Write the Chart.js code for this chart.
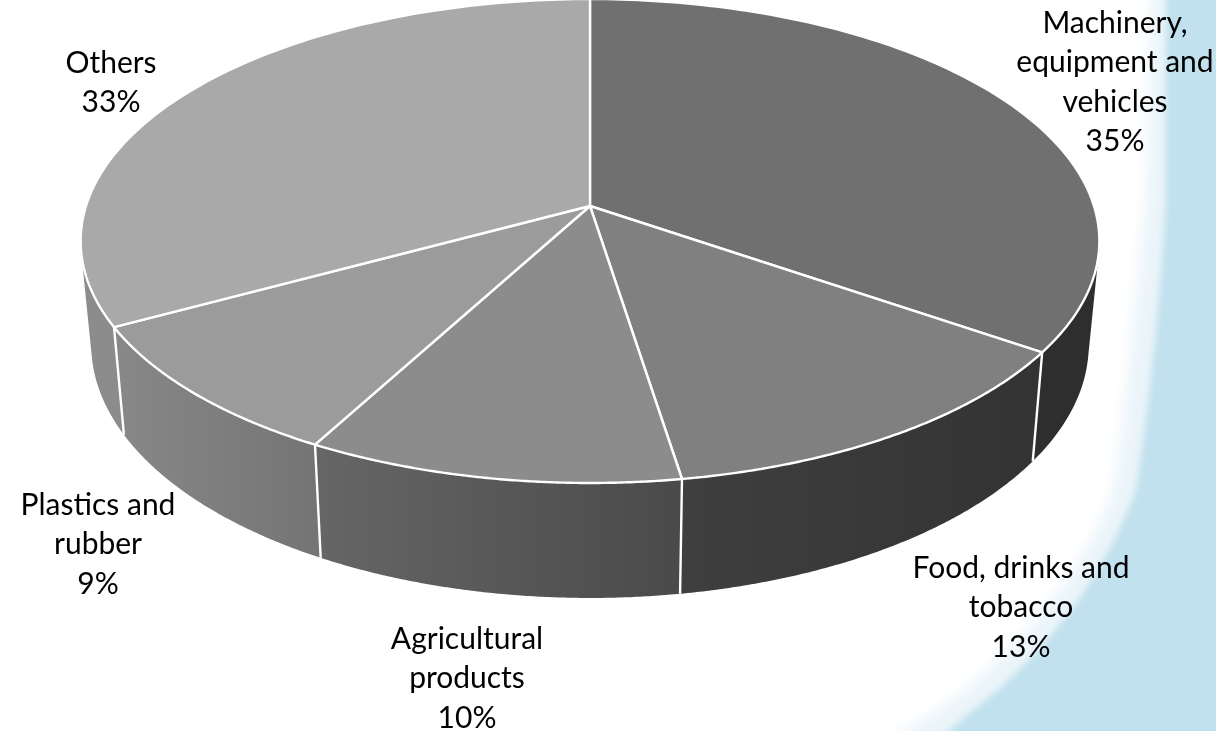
<!DOCTYPE html>
<html>
<head>
<meta charset="utf-8">
<title>Pie</title>
<script src="https://cdn.jsdelivr.net/npm/chart.js@4"></script>
<style>
html, body { margin: 0; padding: 0; background: #fff; overflow: hidden; }
#wrap { position: relative; width: 1216px; height: 731px; }
#wrap svg, #wrap canvas { position: absolute; left: 0; top: 0; }
</style>
</head>
<body>
<div id="wrap">
<svg width="1216" height="731">
    <defs>
        <filter id="soft"><feGaussianBlur stdDeviation="3"></feGaussianBlur></filter>
        <filter id="softer"><feGaussianBlur stdDeviation="7"></feGaussianBlur></filter>
    </defs>
    <path filter="url(#softer)" fill="#eaf4f9" d="M1152,-20 L1146,200 C1136,300 1126,400 1116,480 C1100,540 1050,620 965,690 C935,715 905,730 875,750 L1240,750 L1240,-20 Z"></path>
    <path filter="url(#soft)" fill="#c1e1ee" d="M1166,-20 L1166,200 C1160,300 1150,400 1136,490 C1112,555 1065,640 966,716 C953,728 943,735 928,750 L1240,750 L1240,-20 Z"></path>
</svg>
<canvas id="chart" width="1216" height="731"></canvas>
</div>
<script>
const categories = [ 'Machinery, equipment and vehicles', 'Food, drinks and tobacco', 'Agricultural products', 'Plastics and rubber', 'Others' ];
const shares = [ 34.6, 12.9, 10.4, 9.2, 32.9 ];

const label_lines = [
    [ 'Machinery,', 'equipment and', 'vehicles' ],
    [ 'Food, drinks and', 'tobacco' ],
    [ 'Agricultural', 'products' ],
    [ 'Plastics and', 'rubber' ],
    [ 'Others' ]
];
const label_anchors = [ [ 1115, 23 ], [ 1021, 568 ], [ 467, 639 ], [ 98, 505 ], [ 111, 63 ] ];

const top_colors = [ '#707070', '#808080', '#8c8c8c', '#9b9b9b', '#a9a9a9' ];
const wall_colors = [
    [ '#2e2e2e', '#2e2e2e' ],
    [ '#3f3f3f', '#333333' ],
    [ '#666666', '#4a4a4a' ],
    [ '#888888', '#747474' ],
    [ '#8c8c8c', '#888888' ]
];

// flat disc to picture, near edge larger than far edge
const top_face = { cx: 590, cy: 206, rx: 504, ry: 236.9, p: 0.1447 };
const base_face = { cx: 590, cy: 308, rx: 493.5, ry: 248, p: 0.1447 };

function project( face, angle ) {

    let x = Math.cos( angle ),
        y = -Math.sin( angle ),
        w = 1 + face.p * y;

    return [ face.cx + face.rx * x / w, face.cy - face.ry * y / w ];

};

function rim( face, start, end ) {

    let pts = [], n = 120;

    for( let i = 0; i <= n; i++ ) {

        pts.push( project( face, start + ( end - start ) * i / n ) );

    }

    return pts;

};

function trace( ctx, pts ) {

    pts.forEach( ( p, i ) => {

        i ? ctx.lineTo( p[0], p[1] ) : ctx.moveTo( p[0], p[1] );

    } );

    ctx.closePath();

};

// signed area, so every strip can be wound the same way
function area( pts ) {

    let a = 0;

    pts.forEach( ( p, i ) => {

        let q = pts[ ( i + 1 ) % pts.length ];

        a += p[0] * q[1] - q[0] * p[1];

    } );

    return a;

};

const pie3d = {
    id: 'pie3d',
    beforeDatasetDraw( chart ) {

        let ctx = chart.ctx,
            arcs = chart.getDatasetMeta( 0 ).data;

        ctx.save();
        ctx.lineJoin = 'round';

        // side wall, one path of thin strips so the outline follows the drop
        arcs.forEach( ( arc, i ) => {

            let upper = rim( top_face, arc.startAngle, arc.endAngle ),
                lower = rim( base_face, arc.startAngle, arc.endAngle ),
                xs = upper.concat( lower ).map( p => p[0] ),
                grad = ctx.createLinearGradient( Math.min( ...xs ), 0, Math.max( ...xs ), 0 );

            grad.addColorStop( 0, wall_colors[ i ][0] );
            grad.addColorStop( 1, wall_colors[ i ][1] );

            ctx.beginPath();

            for( let k = 0; k < upper.length - 1; k++ ) {

                let strip = [ upper[ k ], upper[ k + 1 ], lower[ k + 1 ], lower[ k ] ];

                trace( ctx, area( strip ) < 0 ? strip.reverse() : strip );

            }

            ctx.fillStyle = grad;
            ctx.fill();

        } );

        // seams between walls
        ctx.strokeStyle = '#ffffff';
        ctx.lineWidth = 2.4;

        arcs.forEach( ( arc ) => {

            ctx.beginPath();
            ctx.moveTo( ...project( top_face, arc.endAngle ) );
            ctx.lineTo( ...project( base_face, arc.endAngle ) );
            ctx.stroke();

        } );

        // top face
        arcs.forEach( ( arc, i ) => {

            ctx.beginPath();
            trace( ctx, [ [ top_face.cx, top_face.cy ] ].concat( rim( top_face, arc.startAngle, arc.endAngle ) ) );
            ctx.fillStyle = top_colors[ i ];
            ctx.fill();
            ctx.stroke();

        } );

        ctx.restore();

        return false;

    },
    afterDraw( chart ) {

        let ctx = chart.ctx,
            total = shares.reduce( ( a, b ) => a + b, 0 );

        ctx.save();
        ctx.font = '30px Lato, sans-serif';
        ctx.fillStyle = '#000000';
        ctx.textAlign = 'center';
        ctx.textBaseline = 'middle';

        label_lines.forEach( ( lines, i ) => {

            let rows = lines.concat( Math.round( shares[ i ] / total * 100 ) + '%' );

            rows.forEach( ( row, r ) => {

                ctx.fillText( row, label_anchors[ i ][0], label_anchors[ i ][1] + r * 39.5 );

            } );

        } );

        ctx.restore();

    }
};

new Chart( document.getElementById( 'chart' ), {
    type: 'pie',
    data: {
        labels: categories,
        datasets: [ {
            data: shares,
            backgroundColor: top_colors,
            borderColor: '#ffffff',
            borderWidth: 2
        } ]
    },
    options: {
        responsive: false,
        animation: false,
        plugins: {
            legend: { display: false },
            tooltip: { enabled: false }
        }
    },
    plugins: [ pie3d ]
} );
</script>
</body>
</html>
